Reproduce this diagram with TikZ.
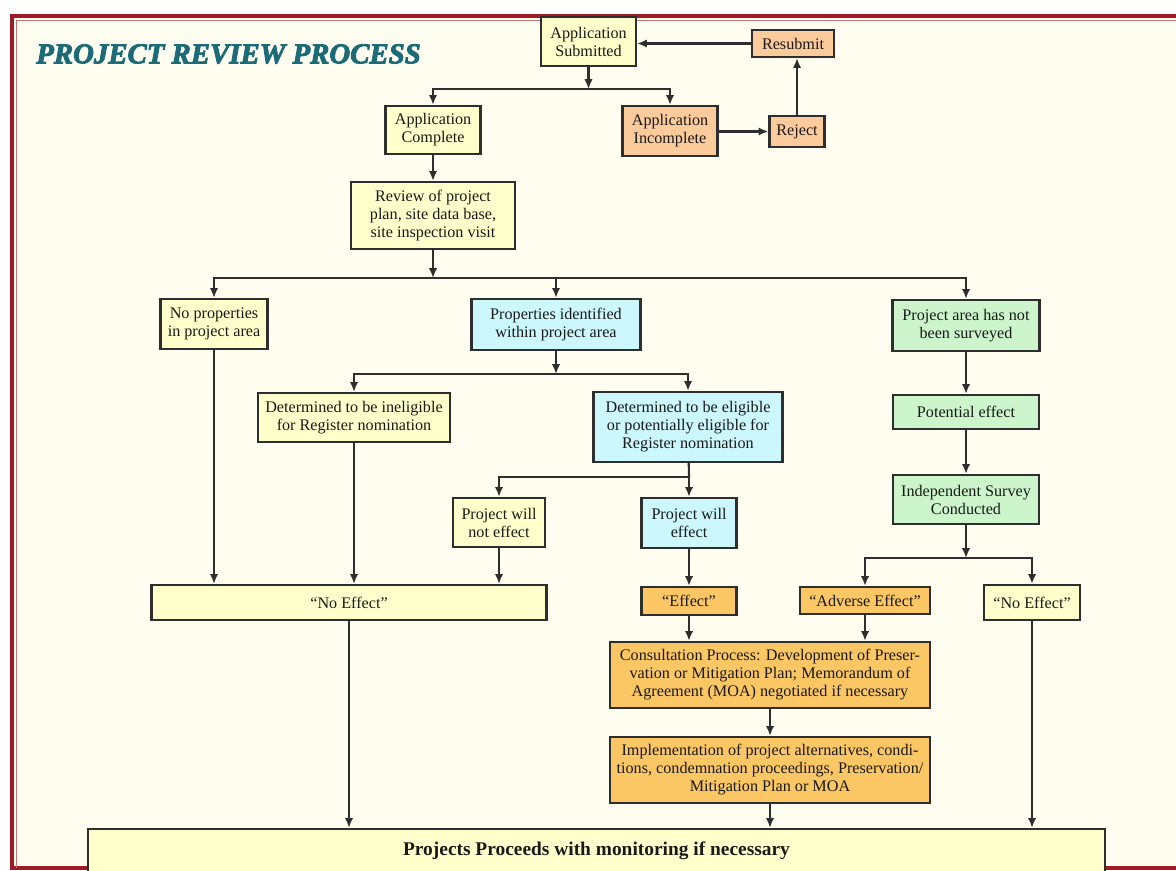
\documentclass[tikz,border=0pt]{standalone}
\usepackage{fontspec}
\setmainfont{Liberation Serif}
\newfontfamily\titlefont{Liberation Serif}[BoldItalicFeatures={FakeBold=3}]
\newcommand\flowfont{\fontsize{11.5}{12.8}\selectfont}
\usepackage{tikz}
\usetikzlibrary{positioning}
\usetikzlibrary{arrows.meta}
\definecolor{cream}{HTML}{FFFDF0}
\definecolor{paleyel}{HTML}{FFFFCC}
\definecolor{salmon}{HTML}{FCCB9C}
\definecolor{paleblue}{HTML}{CCF7FC}
\definecolor{palegreen}{HTML}{CCF5CC}
\definecolor{gold}{HTML}{FBC765}
\definecolor{teal2}{HTML}{1C6B78}
\definecolor{framered}{HTML}{9E1C24}
\definecolor{boxline}{HTML}{2E2E2E}
\tikzset{
    flowbox/.style = {rectangle, draw=boxline, line width=1.6pt, align=center, inner sep=1pt, font=\flowfont, text=black!90},
    ybox/.style = {flowbox, fill=paleyel},
    obox/.style = {flowbox, fill=salmon},
    bbox/.style = {flowbox, fill=paleblue},
    gbox/.style = {flowbox, fill=palegreen},
    gobox/.style = {flowbox, fill=gold},
    edgen/.style = {-{Latex[length=7pt,width=6pt]}, line width=1.5pt, draw=boxline},
    linen/.style = {line width=1.5pt, draw=boxline}
}
\begin{document}
\begin{tikzpicture}[x=0.025cm, y=-0.025cm]
\useasboundingbox (0,0) rectangle (1176,870);
\fill[white] (0,0) rectangle (1176,870);
\fill[cream] (12,16) rectangle (1176,868);
\draw[framered, line width=2.8pt] (1176,16) -- (12,16) -- (12,868) -- (1176,868);
\draw[framered!60, line width=0.8pt] (1176,20.5) -- (16.5,20.5) -- (16.5,868);
%
\node[font=\titlefont\bfseries\itshape\fontsize{20.5}{24}\selectfont, text=teal2] at (228.5,54) (title) {PROJECT REVIEW PROCESS};
%
\node[ybox, minimum width=2.375cm, minimum height=1.225cm] at (588.5,41.5) (sub) {Application\\Submitted};
\node[obox, minimum width=2.05cm, minimum height=0.675cm] at (793,43.5) (resub) {Resubmit};
\node[ybox, minimum width=2.375cm, minimum height=1.2cm] at (433,130) (comp) {Application\\Complete};
\node[obox, minimum width=2.375cm, minimum height=1.25cm] at (670,131) (incomp) {Application\\Incomplete};
\node[obox, minimum width=1.375cm, minimum height=0.775cm] at (797,131.5) (reject) {Reject};
\node[ybox, minimum width=4.1cm, minimum height=1.675cm] at (433,215.5) (review) {Review of project\\plan, site data base,\\site inspection visit};
%
\node[ybox, minimum width=2.675cm, minimum height=1.25cm] at (214,324) (nop) {No properties\\in project area};
\node[bbox, minimum width=4.225cm, minimum height=1.275cm] at (556,324.5) (propid) {Properties identified\\within project area};
\node[gbox, minimum width=3.675cm, minimum height=1.275cm] at (966,325.5) (surv) {Project area has not\\been surveyed};
\node[ybox, minimum width=4.8cm, minimum height=1.225cm] at (354,417.5) (inel) {Determined to be ineligible\\for Register nomination};
\node[bbox, minimum width=4.725cm, minimum height=1.75cm] at (688,427) (elig) {Determined to be eligible\\or potentially eligible for\\Register nomination};
\node[gbox, minimum width=3.65cm, minimum height=0.85cm] at (966,412) (pot) {Potential effect};
\node[gbox, minimum width=3.65cm, minimum height=1.225cm] at (966,499.5) (indep) {Independent Survey\\Conducted};
\node[ybox, minimum width=2.3cm, minimum height=1.225cm] at (499,522.5) (notf) {Project will\\not effect};
\node[bbox, minimum width=2.375cm, minimum height=1.25cm] at (689,523) (willf) {Project will\\effect};
%
\node[ybox, minimum width=9.875cm, minimum height=0.875cm] at (349,602.5) (noeffa) {“No Effect”};
\node[gobox, minimum width=2.375cm, minimum height=0.7cm] at (689,601) (eff) {“Effect”};
\node[gobox, minimum width=3.25cm, minimum height=0.675cm] at (865,600.5) (adv) {“Adverse Effect”};
\node[ybox, minimum width=2.4cm, minimum height=0.875cm] at (1032,602.5) (noeffb) {“No Effect”};
\node[gobox, minimum width=8.0cm, minimum height=1.65cm] at (770,675) (cons) {Consultation Process: Development of Preser-\\vation or Mitigation Plan; Memorandum of\\Agreement (MOA) negotiated if necessary};
\node[gobox, minimum width=8.0cm, minimum height=1.65cm] at (770,770) (impl) {Implementation of project alternatives, condi-\\tions, condemnation proceedings, Preservation/\\Mitigation Plan or MOA};
\node[ybox, minimum width=25.425cm, minimum height=1.1cm, font=\fontsize{13.8}{16}\selectfont\bfseries] at (596.5,851) (final) {Projects Proceeds with monitoring if necessary};
%
\coordinate (j1) at (588.5,89);
\coordinate (j2) at (433,278);
\coordinate (j3) at (556,374);
\coordinate (j4) at (689,477);
\coordinate (j5) at (966,558);
%
\draw[edgen] (resub.west) -- (resub.west -| sub.east);
\draw[edgen] (sub) -- (j1);
\draw[edgen] (j1) -| (comp.north);
\draw[edgen] (j1) -| (incomp.north);
\draw[edgen] (incomp.east |- reject.west) -- (reject.west);
\draw[edgen] (reject.north) -- (resub.south -| reject.north);
\draw[edgen] (comp) -- (review);
\draw[edgen] (review) -- (j2);
\draw[edgen] (j2) -| (nop.north);
\draw[edgen] (j2) -| (propid.north);
\draw[edgen] (j2) -| (surv.north);
\draw[edgen] (propid) -- (j3);
\draw[edgen] (j3) -| (inel.north);
\draw[edgen] (j3) -| (elig.north);
\draw[linen] (elig) -- (j4);
\draw[edgen] (j4) -| (notf.north);
\draw[edgen] (j4) -| (willf.north);
\draw[edgen] (surv) -- (pot);
\draw[edgen] (pot) -- (indep);
\draw[edgen] (indep) -- (j5);
\draw[edgen] (j5) -| (adv.north);
\draw[edgen] (j5) -| (noeffb.north);
\draw[edgen] (nop.south) -- (nop.south |- noeffa.north);
\draw[edgen] (inel.south) -- (inel.south |- noeffa.north);
\draw[edgen] (notf.south) -- (notf.south |- noeffa.north);
\draw[edgen] (willf) -- (eff);
\draw[edgen] (eff.south) -- (eff.south |- cons.north);
\draw[edgen] (adv.south) -- (adv.south |- cons.north);
\draw[edgen] (cons) -- (impl);
\draw[edgen] (impl.south) -- (impl.south |- final.north);
\draw[edgen] (noeffa.south) -- (noeffa.south |- final.north);
\draw[edgen] (noeffb.south) -- (noeffb.south |- final.north);
\end{tikzpicture}
\end{document}
